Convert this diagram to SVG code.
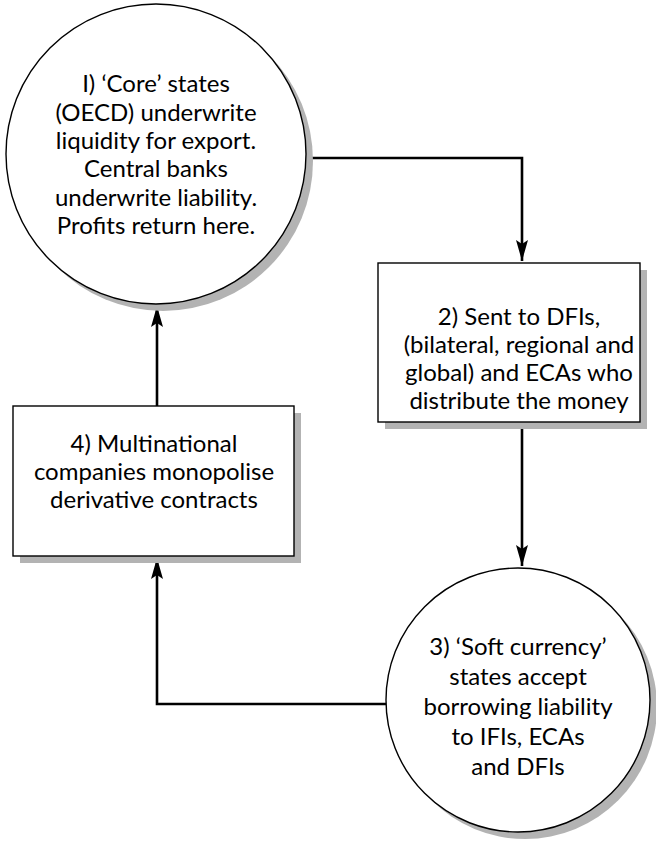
<svg xmlns="http://www.w3.org/2000/svg" width="656" height="841" viewBox="0 0 656 841">
<defs>
<style>
.shadow{fill:#b3b3b3;stroke:none}
.node{fill:#ffffff;stroke:#000000;stroke-width:1.4}
.lbl{font-family:Lato,"Open Sans","Liberation Sans",sans-serif;font-size:24px;fill:#000000;text-anchor:middle}
.conn{fill:none;stroke:#000000;stroke-width:2.6}
</style>
<marker id="arr" viewBox="-22 -7 24 14" refX="0" refY="0" markerWidth="24" markerHeight="14" markerUnits="userSpaceOnUse" orient="auto">
<path d="M0,0 L-21,-6 L-17,0 L-21,6 Z" fill="#000000"/>
</marker>
</defs>
<rect width="656" height="841" fill="#ffffff"/>
<g id="connectors">
<polyline class="conn" points="306,158 522,158 522,261" marker-end="url(#arr)"/>
<line class="conn" x1="522" y1="422" x2="522" y2="566" marker-end="url(#arr)"/>
<polyline class="conn" points="386,704 157,704 157,558" marker-end="url(#arr)"/>
<line class="conn" x1="157" y1="406" x2="157" y2="306" marker-end="url(#arr)"/>
</g>
<g id="node1">
<circle class="shadow" cx="163" cy="161" r="150"/>
<circle class="node" cx="156" cy="154" r="150"/>
<text class="lbl" x="156" y="92">I) ‘Core’ states</text>
<text class="lbl" x="156" y="121">(OECD) underwrite</text>
<text class="lbl" x="156" y="149">liquidity for export.</text>
<text class="lbl" x="156" y="177">Central banks</text>
<text class="lbl" x="156" y="206">underwrite liability.</text>
<text class="lbl" x="156" y="234">Profits return here.</text>
</g>
<g id="node2">
<rect class="shadow" x="385" y="270" width="262" height="159"/>
<rect class="node" x="378" y="263" width="262" height="159"/>
<text class="lbl" x="519" y="325">2) Sent to DFIs,</text>
<text class="lbl" x="519" y="353">(bilateral, regional and</text>
<text class="lbl" x="519" y="381">global) and ECAs who</text>
<text class="lbl" x="519" y="409">distribute the money</text>
</g>
<g id="node3">
<circle class="shadow" cx="525" cy="707" r="132"/>
<circle class="node" cx="518" cy="700" r="132"/>
<text class="lbl" x="518" y="655">3) ‘Soft currency’</text>
<text class="lbl" x="518" y="685">states accept</text>
<text class="lbl" x="518" y="715">borrowing liability</text>
<text class="lbl" x="518" y="745">to IFIs, ECAs</text>
<text class="lbl" x="518" y="775">and DFIs</text>
</g>
<g id="node4">
<rect class="shadow" x="20" y="413" width="281" height="150"/>
<rect class="node" x="13" y="406" width="281" height="150"/>
<text class="lbl" x="154" y="452">4) Multinational</text>
<text class="lbl" x="154" y="480">companies monopolise</text>
<text class="lbl" x="154" y="508">derivative contracts</text>
</g>
</svg>
